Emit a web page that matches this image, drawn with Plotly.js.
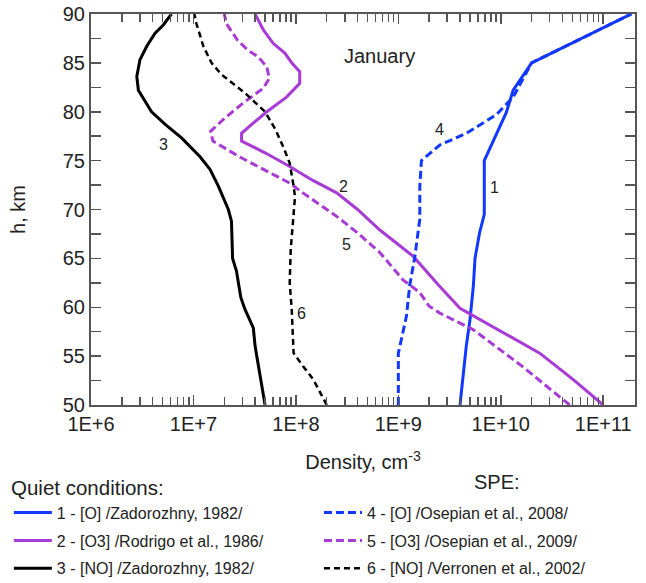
<!DOCTYPE html>
<html><head><meta charset="utf-8">
<script src="https://cdn.plot.ly/plotly-3.0.1.min.js"></script>
<style>html,body{margin:0;padding:0;background:#fff}#chart{width:646px;height:583px}</style>
</head><body><div id="chart"></div>
<script>
// Altitudes (km) and densities (cm^-3)
const h1 = [50, 56, 58.7, 62.2, 65, 67.6, 69.5, 75, 79.9, 82.2, 85, 90];
const oZad = [4.0e9, 4.6e9, 5.0e9, 5.4e9, 5.6e9, 6.2e9, 6.9e9, 6.9e9, 1.13e10, 1.32e10, 2.0e10, 1.88e11];

const h2 = [50, 52.6, 55.3, 58.2, 59.9, 62.3, 65.2, 67.9, 70, 71.7, 73, 74.4, 75.8, 77, 77.8, 78.8, 80, 81.5, 82.9, 84.1, 85, 86, 87, 88.4, 90];
const o3Rod = [1.0e11, 5.1e10, 2.4e10, 7.8e9, 4.0e9, 2.45e9, 1.4e9, 6.6e8, 4.0e8, 2.5e8, 1.45e8, 8.7e7, 5.0e7, 2.95e7, 2.95e7, 3.8e7, 5.2e7, 8.1e7, 1.09e8, 1.09e8, 9.1e7, 7.8e7, 6.0e7, 4.8e7, 4.0e7];

const h3 = [50, 56, 57.9, 59.8, 61, 63.7, 65, 68.8, 70, 72.4, 74.1, 75.4, 77.3, 78.7, 80, 81, 82.2, 83.6, 85.3, 86.7, 88, 88.9, 90];
const noZad = [5.0e7, 4.0e7, 3.84e7, 3.18e7, 2.9e7, 2.63e7, 2.41e7, 2.35e7, 2.19e7, 1.75e7, 1.45e7, 1.16e7, 7.7e6, 5.3e6, 3.9e6, 3.4e6, 2.9e6, 2.8e6, 3.0e6, 3.5e6, 4.2e6, 5.1e6, 6.1e6];

const h4 = [50, 55.3, 56.7, 59.1, 62.2, 65.2, 69, 72.4, 75, 76.6, 77.8, 79.7, 81.5, 83.6, 85, 90];
const oOse = [1.0e9, 1.0e9, 1.07e9, 1.2e9, 1.29e9, 1.45e9, 1.62e9, 1.62e9, 1.68e9, 2.54e9, 4.62e9, 9.06e9, 1.32e10, 1.71e10, 2.0e10, 1.88e11];

const h5 = [50, 54, 57.7, 59.4, 60.1, 61.5, 62.8, 65.6, 67.6, 69.3, 71.7, 72.7, 75.4, 77, 78, 79.2, 80.9, 82.4, 83.4, 84.6, 85.6, 86.3, 87.3, 89, 90];
const o3Ose = [4.7e10, 1.6e10, 5.4e9, 2.54e9, 2.0e9, 1.62e9, 1.11e9, 6.6e8, 4.0e8, 2.5e8, 1.17e8, 8.7e7, 2.8e7, 1.55e7, 1.47e7, 1.95e7, 3.06e7, 4.8e7, 5.5e7, 5.2e7, 4.3e7, 3.4e7, 2.7e7, 2.1e7, 2.0e7];

const h6 = [50, 52.6, 54, 55.3, 59.8, 62.5, 65.9, 68.6, 71.3, 72.4, 74.75, 76.3, 78.2, 80, 81.9, 83.8, 85, 86.7, 89, 90];
const noVer = [2.0e8, 1.48e8, 1.17e8, 9.5e7, 9.1e7, 8.7e7, 8.9e7, 9.4e7, 9.8e7, 9.5e7, 8.7e7, 7.6e7, 6.3e7, 5.0e7, 3.2e7, 1.88e7, 1.5e7, 1.25e7, 1.07e7, 1.02e7];

const seriesNames = [
  '1 - [O] /Zadorozhny, 1982/',
  '2 - [O3] /Rodrigo et al., 1986/',
  '3 - [NO] /Zadorozhny, 1982/',
  '4 - [O] /Osepian et al., 2008/',
  '5 - [O3] /Osepian et al., 2009/',
  '6 - [NO] /Verronen et al., 2002/'
];

const majorTicks = [1e6, 1e7, 1e8, 1e9, 1e10, 1e11];
const majorText = ['1E+6', '1E+7', '1E+8', '1E+9', '1E+10', '1E+11'];
const minorTicks = [2e6,3e6,4e6,5e6,6e6,7e6,8e6,9e6, 2e7,3e7,4e7,5e7,6e7,7e7,8e7,9e7, 2e8,3e8,4e8,5e8,6e8,7e8,8e8,9e8,
  2e9,3e9,4e9,5e9,6e9,7e9,8e9,9e9, 2e10,3e10,4e10,5e10,6e10,7e10,8e10,9e10, 2e11];
const yTicks = [50, 55, 60, 65, 70, 75, 80, 85, 90];

// curve number labels: [label, density, altitude]
const curveLabels = [['1', 8.7e9, 72.2], ['2', 2.9e8, 72.4], ['3', 5.1e6, 76.6], ['4', 2.5e9, 78.2], ['5', 3.1e8, 66.4], ['6', 1.14e8, 59.4]];

const BLUE = '#1238ff', PURPLE = '#a83ad6', BLACK = '#000000';
const FONT = 'Liberation Sans, Arial, sans-serif';

const traces = [
  {x: oZad, y: h1, name: seriesNames[0], line: {color: BLUE, width: 3}, legend: 'legend', legendgroup: 'a'},
  {x: o3Rod, y: h2, name: seriesNames[1], line: {color: PURPLE, width: 3}, legend: 'legend', legendgroup: 'b'},
  {x: noZad, y: h3, name: seriesNames[2], line: {color: BLACK, width: 3}, legend: 'legend', legendgroup: 'c'},
  {x: oOse, y: h4, name: seriesNames[3], line: {color: BLUE, width: 3, dash: '8px,4px'}, legend: 'legend2', legendgroup: 'd'},
  {x: o3Ose, y: h5, name: seriesNames[4], line: {color: PURPLE, width: 3, dash: '8px,4px'}, legend: 'legend2', legendgroup: 'e'},
  {x: noVer, y: h6, name: seriesNames[5], line: {color: BLACK, width: 2.5, dash: '6px,4px'}, legend: 'legend2', legendgroup: 'f'}
].map(t => Object.assign({type: 'scatter', mode: 'lines', hoverinfo: 'skip'}, t));

const annotations = curveLabels.map(c => ({
  x: Math.log10(c[1]), y: c[2], xref: 'x', yref: 'y', text: c[0], showarrow: false,
  font: {family: FONT, size: 16, color: '#222'}
}));
annotations.push({x: Math.log10(6.5e8), y: 85.7, xref: 'x', yref: 'y', text: 'January', showarrow: false,
  font: {family: FONT, size: 20, color: '#222'}});
annotations.push({x: -0.15, y: -0.212, xref: 'paper', yref: 'paper', xanchor: 'left', yanchor: 'middle',
  text: 'Quiet conditions:', showarrow: false, font: {family: FONT, size: 20.5, color: '#222'}});
annotations.push({x: 0.746, y: -0.197, xref: 'paper', yref: 'paper', xanchor: 'center', yanchor: 'middle',
  text: 'SPE:', showarrow: false, font: {family: FONT, size: 20, color: '#222'}});

const axisCommon = {
  showline: true, linecolor: '#555', linewidth: 2, mirror: 'ticks',
  ticks: 'inside', ticklen: 10, tickwidth: 1.5, tickcolor: '#555',
  showgrid: false, zeroline: false, automargin: false,
  tickfont: {family: FONT, size: 20, color: '#222'}
};

const layout = {
  width: 646, height: 583,
  margin: {l: 91, r: 11, t: 14, b: 178, autoexpand: false},
  paper_bgcolor: '#fff', plot_bgcolor: '#fff',
  font: {family: FONT, color: '#222'},
  xaxis: Object.assign({}, axisCommon, {
    type: 'log', range: [6, 11.31], tickmode: 'array', tickvals: majorTicks, ticktext: majorText,
    minor: {tickmode: 'array', tickvals: minorTicks, ticks: 'inside', ticklen: 8, tickwidth: 1.5, tickcolor: '#555', showgrid: false},
    title: {text: 'Density, cm<sup>-3</sup>', font: {family: FONT, size: 20, color: '#222'}, standoff: 21}
  }),
  yaxis: Object.assign({}, axisCommon, {
    range: [50, 90], tickmode: 'array', tickvals: yTicks,
    minor: {dtick: 2.5, ticks: 'inside', ticklen: 10, tickwidth: 1.5, tickcolor: '#555', showgrid: false},
    title: {text: 'h, km', font: {family: FONT, size: 20, color: '#222'}, standoff: 32}
  }),
  showlegend: true,
  legend: {x: -0.151, y: -0.232, xanchor: 'left', yanchor: 'top', orientation: 'v',
    font: {family: FONT, size: 16, color: '#222'}, bgcolor: 'rgba(0,0,0,0)', tracegroupgap: 4, itemwidth: 38},
  legend2: {x: 0.419, y: -0.232, xanchor: 'left', yanchor: 'top', orientation: 'v',
    font: {family: FONT, size: 16, color: '#222'}, bgcolor: 'rgba(0,0,0,0)', tracegroupgap: 4, itemwidth: 38},
  annotations: annotations
};

Plotly.newPlot('chart', traces, layout, {displayModeBar: false, staticPlot: true});
</script>
</body></html>
